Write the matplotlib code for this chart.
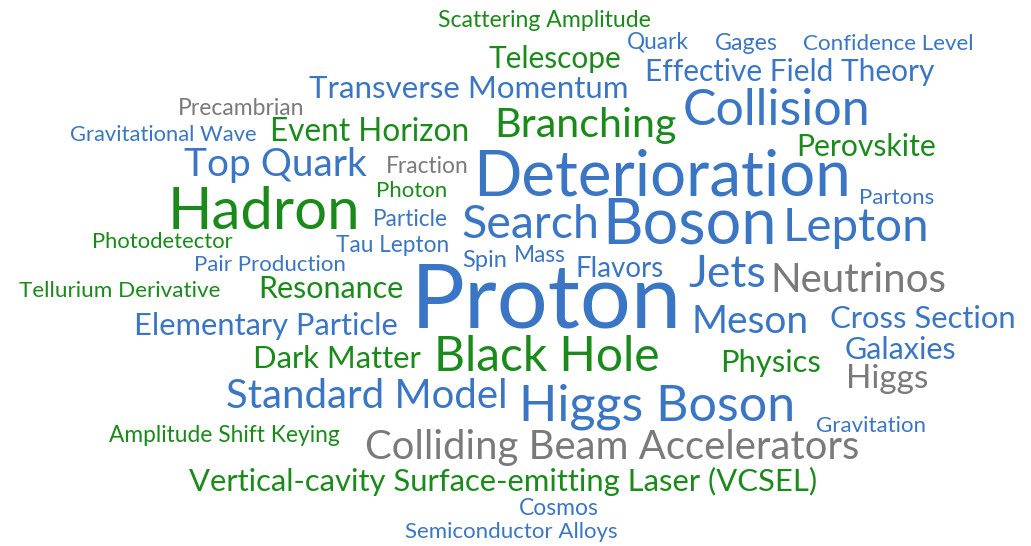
import matplotlib.pyplot as plt

# word cloud data: term, weight (font size), colour group
words = [
    "Scattering Amplitude", "Quark", "Gages", "Confidence Level", "Telescope",
    "Effective Field Theory", "Transverse Momentum", "Precambrian", "Collision",
    "Branching", "Gravitational Wave", "Event Horizon", "Perovskite", "Top Quark",
    "Fraction", "Deterioration", "Partons", "Photon", "Hadron", "Particle",
    "Search", "Boson", "Lepton", "Photodetector", "Tau Lepton", "Spin", "Mass",
    "Pair Production", "Flavors", "Jets", "Neutrinos", "Proton",
    "Tellurium Derivative", "Resonance", "Elementary Particle", "Meson",
    "Cross Section", "Dark Matter", "Black Hole", "Physics", "Galaxies", "Higgs",
    "Standard Model", "Higgs Boson", "Gravitation", "Amplitude Shift Keying",
    "Colliding Beam Accelerators", "Vertical-cavity Surface-emitting Laser (VCSEL)",
    "Cosmos", "Semiconductor Alloys",
]
weights = [
    16.6, 16.3, 16.7, 16.1, 21.5, 21.5, 22.5, 16.5, 36, 29.7, 15.8, 22.7, 21.7,
    28, 16.4, 45.8, 16, 16, 41.9, 16.3, 33.5, 45.4, 34.2, 15.8, 16.3, 17, 16.3,
    16, 20, 32, 29, 64.8, 16.2, 22, 22.2, 28, 22.3, 22.3, 34.5, 22.2, 22, 24,
    28.9, 36.1, 16, 16.4, 28.8, 22.3, 16.5, 16,
]
groups = [
    "g", "b", "b", "b", "g", "b", "b", "k", "b", "g", "b", "g", "g", "b", "k", "b",
    "b", "g", "g", "b", "b", "b", "b", "g", "b", "b", "b", "b", "b", "b", "k", "b",
    "g", "g", "b", "b", "b", "g", "g", "g", "b", "k", "b", "b", "b", "g", "k", "g",
    "b", "b",
]

# layout (pixel centre x, baseline y) from the cloud placement
layout = [
    (544, 27), (658, 48), (746, 50), (888, 50), (555, 68), (790, 81), (469, 98),
    (241, 115), (776, 125), (585, 137), (163, 141), (370, 141), (866, 156),
    (275, 176), (427, 173), (662, 195), (897, 204), (412, 197), (264, 229),
    (410, 226), (530, 238), (690, 243), (856, 241), (162, 248), (393, 252),
    (485, 267), (540, 262), (270, 271), (620, 277), (727, 287), (858, 292),
    (546, 327), (120, 297), (331, 298), (266, 335), (750, 333), (923, 328),
    (337, 368), (547, 371), (771, 372), (900, 359), (887, 388), (367, 408),
    (657, 420), (871, 432), (224, 442), (612, 459), (503, 491), (559, 515),
    (511, 538),
]

palette = {"b": "#3a76c4", "g": "#1a8a1a", "k": "#7a7a7a"}

plt.rcParams['font.family'] = ['Lato', 'DejaVu Sans']

fig = plt.figure(figsize=(10.31, 5.46), dpi=100)
ax = fig.add_axes([0, 0, 1, 1])
ax.set_xlim(0, 1031)
ax.set_ylim(546, 0)
ax.axis('off')

for word, w, grp, (x, y) in zip(words, weights, groups, layout):
    ax.text(x, y, word, fontsize=w, color=palette[grp], ha='center', va='baseline')

fig.savefig('out.png', dpi=100, facecolor='white')
